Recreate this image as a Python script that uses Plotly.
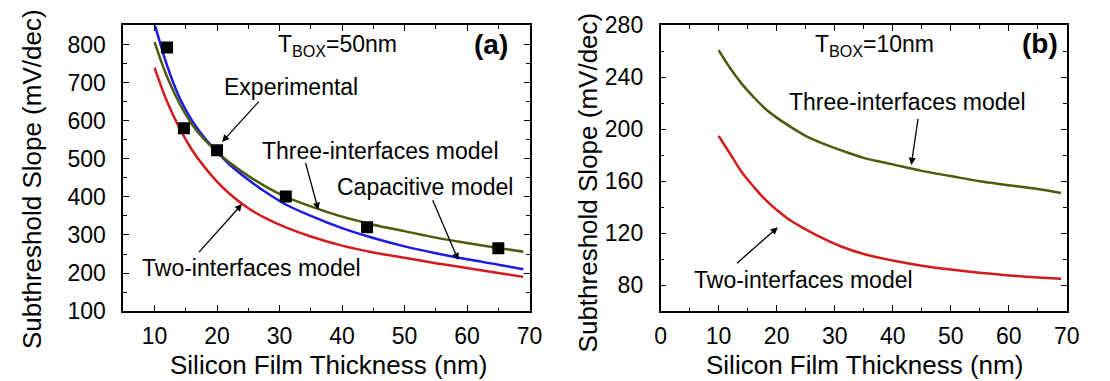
import plotly.graph_objects as go

# ---------------- data ----------------
thickness = [10, 12, 14, 16, 18, 20, 22, 25, 28, 31, 35, 40, 45, 50, 55, 60, 65, 69]

# panel (a) T_BOX = 50 nm
three_a = [806, 715, 645, 590, 550, 518, 490, 455, 425, 400, 375, 348, 327, 310, 293, 279, 266, 256]
capacitive_a = [855, 745, 660, 600, 555, 518, 485, 445, 410, 380, 350, 318, 292, 270, 252, 236, 222, 210]
two_a = [739, 650, 580, 523, 478, 440, 408, 370, 342, 320, 296, 272, 254, 240, 226, 213, 200, 190]
exp_x = [12, 14.7, 20, 31, 44, 65]
exp_y = [792, 580, 522, 401, 320, 265]

# panel (b) T_BOX = 10 nm
three_b = [261, 247, 235, 225, 216, 209, 203, 195, 189, 184, 178, 173, 168, 164, 160, 157, 154, 151]
two_b = [195, 181, 167, 156, 146, 138, 131, 123, 116, 110, 104, 99, 95, 92, 89.5, 87.5, 86, 85]

OLIVE = "#4c5a0c"
RED = "#d41a1a"
BLUE = "#1a1ae6"
FONT = "Liberation Sans, Arial, sans-serif"

fig = go.Figure()

def curve(y, color, xa, ya):
    fig.add_trace(go.Scatter(x=thickness, y=y, mode="lines",
                             line=dict(color=color, width=2.5, shape="spline", smoothing=1.0),
                             xaxis=xa, yaxis=ya, showlegend=False))

curve(two_a, RED, "x", "y")
curve(capacitive_a, BLUE, "x", "y")
curve(three_a, OLIVE, "x", "y")
fig.add_trace(go.Scatter(x=exp_x, y=exp_y, mode="markers",
                         marker=dict(symbol="square", size=12, color="black"),
                         xaxis="x", yaxis="y", showlegend=False))
curve(three_b, OLIVE, "x2", "y2")
curve(two_b, RED, "x2", "y2")

ydom = [0.1601, 0.9651]
common = dict(showgrid=False, zeroline=False, showline=True, linecolor="black", linewidth=1.6,
              mirror="ticks", ticks="inside", ticklen=6, tickwidth=1.4, tickcolor="black",
              tickfont=dict(family=FONT, size=23, color="black"))
minor_x = dict(ticks="inside", ticklen=3.5, dtick=5, tick0=0, tickcolor="black", tickwidth=1.2)

fig.update_layout(
    width=1110, height=381,
    margin=dict(l=0, r=0, t=0, b=0),
    paper_bgcolor="white", plot_bgcolor="white",
    font=dict(family=FONT, color="black"),
    xaxis=dict(domain=[0.1075, 0.4799], range=[5, 70], dtick=10, tick0=0, anchor="y",
               ticklabelstandoff=3, minor=minor_x, **common),
    yaxis=dict(domain=ydom, range=[100, 850], dtick=100, tick0=0, anchor="x",
               ticklabelstandoff=11,
               minor=dict(ticks="inside", ticklen=3.5, dtick=50, tick0=0, tickcolor="black", tickwidth=1.2),
               **common),
    xaxis2=dict(domain=[0.6, 0.9723], range=[0, 70], dtick=10, tick0=0, anchor="y2",
                ticklabelstandoff=3, minor=minor_x, **common),
    yaxis2=dict(domain=ydom, range=[60, 280], dtick=40, tick0=0, anchor="x2",
                ticklabelstandoff=11,
                minor=dict(ticks="inside", ticklen=3.5, dtick=20, tick0=0, tickcolor="black", tickwidth=1.2),
                **common),
)

ann = []
tf = dict(family=FONT, size=23, color="black")

def text(x, y, s, xref, yref, font=tf, **kw):
    ann.append(dict(x=x, y=y, xref=xref, yref=yref, text=s, showarrow=False, font=font,
                    xanchor="center", yanchor="middle", **kw))

def arrow(x0, y0, x1, y1, xr, yr):
    ann.append(dict(x=x1, y=y1, ax=x0, ay=y0, xref=xr, yref=yr, axref=xr, ayref=yr, text="",
                    showarrow=True, arrowhead=2, arrowsize=1.1, arrowwidth=1.3, arrowcolor="black"))

# axis titles
title_font = dict(family=FONT, size=26, color="black")
text(0.2955, 0.008, "Silicon Film Thickness (nm)", "paper", "paper", font=title_font)
text(0.7865, 0.008, "Silicon Film Thickness (nm)", "paper", "paper", font=title_font)
text(0.0245, 0.5315, "Subthreshold Slope (mV/dec)", "paper", "paper", font=title_font, textangle=-90)
text(0.5333, 0.5223, "Subthreshold Slope (mV/dec)", "paper", "paper", font=title_font, textangle=-90)

# panel (a)
bold = dict(family=FONT, size=28, color="black")
text(39.2, 796, "T<sub>BOX</sub>=50nm", "x", "y")
text(63.8, 800, "<b>(a)</b>", "x", "y", font=bold)
text(31.8, 688, "Experimental", "x", "y")
text(46.1, 520, "Three-interfaces model", "x", "y")
text(53.3, 425, "Capacitive model", "x", "y")
text(25.5, 212, "Two-interfaces model", "x", "y")
arrow(26.9, 654, 20.8, 544, "x", "y")
arrow(34.1, 493, 36.2, 366, "x", "y")
arrow(54.4, 395, 58.6, 234, "x", "y")
arrow(16.9, 251, 24.0, 381, "x", "y")

# panel (b)
text(36.8, 264.4, "T<sub>BOX</sub>=10nm", "x2", "y2")
text(65.3, 265.9, "<b>(b)</b>", "x2", "y2", font=bold)
text(42.6, 221.4, "Three-interfaces model", "x2", "y2")
text(24.7, 83.7, "Two-interfaces model", "x2", "y2")
arrow(44.4, 209.2, 43.2, 172.6, "x2", "y2")
arrow(12.9, 95.9, 20.2, 124.6, "x2", "y2")

fig.update_layout(annotations=ann)
fig.write_html("out.html")
